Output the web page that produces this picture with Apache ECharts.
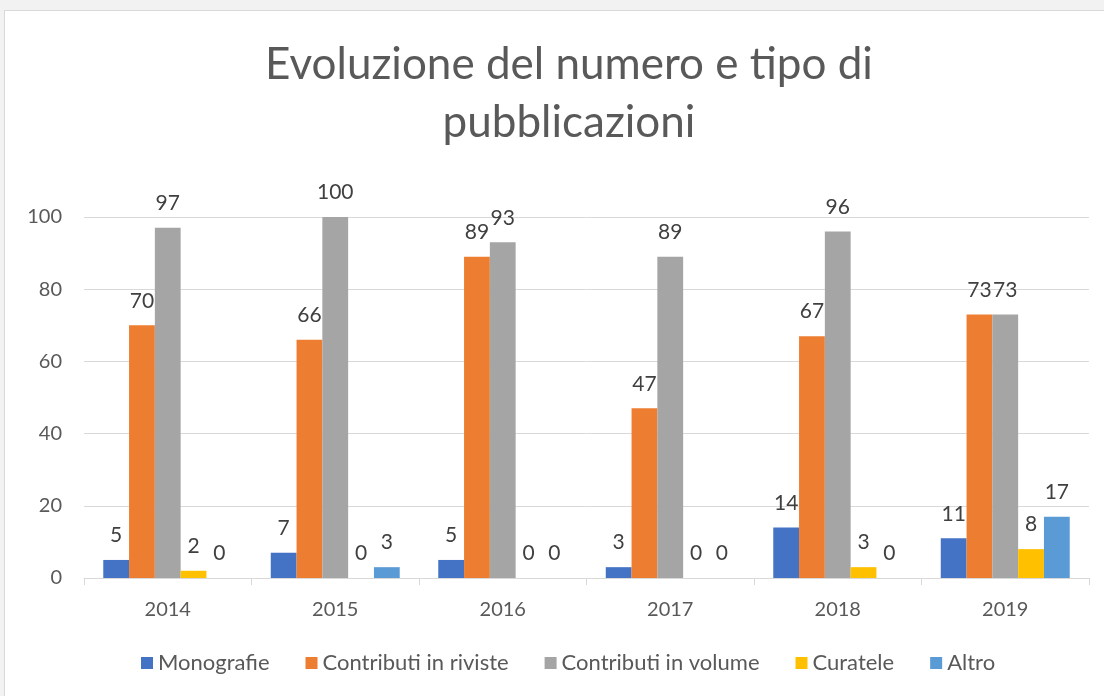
<!DOCTYPE html>
<html>
<head>
<meta charset="utf-8">
<script src="https://cdn.jsdelivr.net/npm/echarts@6/dist/echarts.min.js"></script>
<style>
html,body{margin:0;padding:0;background:#f2f2f2;overflow:hidden;}
#frame{position:absolute;left:4px;top:10px;width:1120px;height:720px;background:#fff;border:1px solid #d9d9d9;}
#chart{position:absolute;left:0;top:0;width:1104px;height:696px;}
</style>
</head>
<body>
<div id="frame"></div>
<div id="chart"></div>
<script>
const categories = ['2014', '2015', '2016', '2017', '2018', '2019'];
const seriesNames = ['Monografie', 'Contributi in riviste', 'Contributi in volume', 'Curatele', 'Altro'];
const monografie = [5, 7, 5, 3, 14, 11];
const contributiRiviste = [70, 66, 89, 47, 67, 73];
const contributiVolume = [97, 100, 93, 89, 96, 73];
const curatele = [2, 0, 0, 0, 3, 8];
const altro = [0, 3, 0, 0, 0, 17];
const yTicks = [0, 20, 40, 60, 80, 100];
const colors = ['#4472C4', '#ED7D31', '#A5A5A5', '#FFC000', '#5B9BD5'];

const FONT = 'Lato';
const values = [monografie, contributiRiviste, contributiVolume, curatele, altro];

const chart = echarts.init(document.getElementById('chart'), null, {renderer: 'canvas'});
chart.setOption({
  backgroundColor: 'transparent',
  animation: false,
  color: colors,
  title: {
    text: 'Evoluzione del numero e tipo di\npubblicazioni',
    left: 564,
    top: 31,
    textAlign: 'center',
    textStyle: {fontFamily: FONT, fontSize: 44, fontWeight: 'normal', color: '#595959', lineHeight: 58}
  },
  legend: {
    data: seriesNames,
    left: 136,
    top: 647,
    icon: 'rect',
    itemWidth: 12,
    itemHeight: 12,
    itemGap: 36,
    textStyle: {fontFamily: FONT, fontSize: 22, color: '#595959'}
  },
  grid: {left: 84, right: 15, top: 217, bottom: 118, containLabel: false},
  xAxis: {
    type: 'category',
    data: categories,
    axisLine: {lineStyle: {color: '#d9d9d9', width: 1}},
    axisTick: {show: true, length: 7, lineStyle: {color: '#d9d9d9'}},
    axisLabel: {fontFamily: FONT, fontSize: 20, color: '#595959', margin: 22}
  },
  yAxis: {
    type: 'value',
    min: yTicks[0],
    max: yTicks[yTicks.length - 1],
    interval: 20,
    axisLine: {show: false},
    axisTick: {show: false},
    splitLine: {lineStyle: {color: '#d9d9d9', width: 1}},
    axisLabel: {fontFamily: FONT, fontSize: 20, color: '#595959', margin: 22}
  },
  series: seriesNames.map((name, i) => ({
    name: name,
    type: 'bar',
    data: values[i],
    barGap: '0%',
    barCategoryGap: '23%',
    label: {show: true, position: 'top', distance: 14, fontFamily: FONT, fontSize: 21, color: '#404040'}
  }))
});
</script>
</body>
</html>
